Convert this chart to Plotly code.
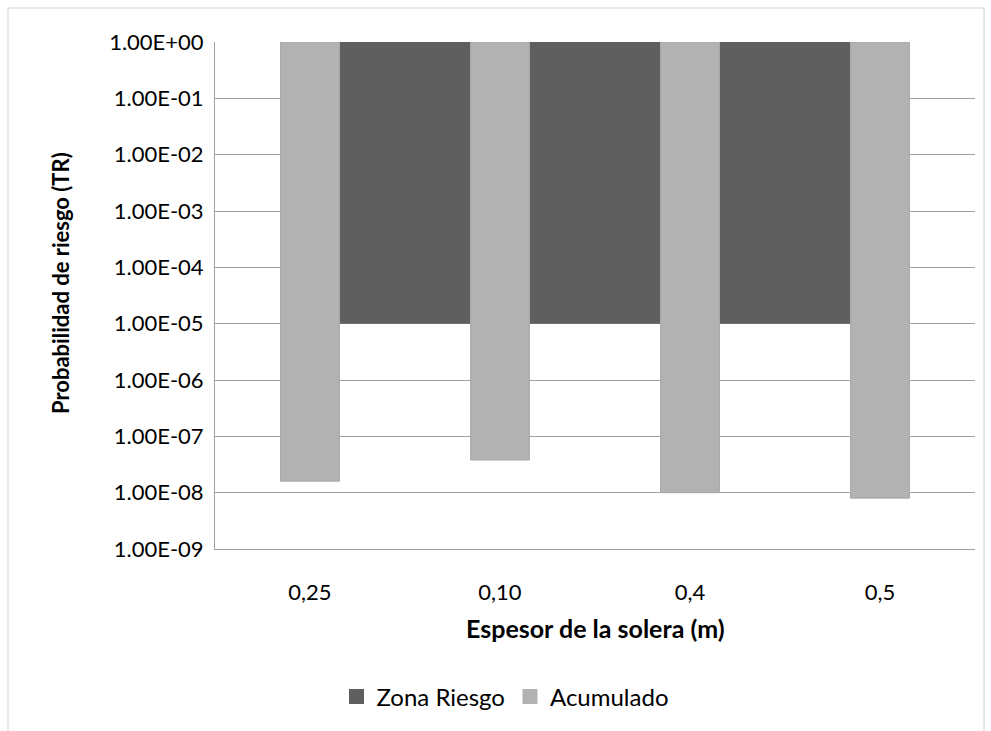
import plotly.graph_objects as go

# Categories (thickness of the base slab, m) and series values
categories = ["0,25", "0,10", "0,4", "0,5"]
acumulado = [1.6e-8, 3.8e-8, 1.0e-8, 8.0e-9]
zona_riesgo = [1e-5, 1e-5, 1e-5, 1e-5]
axis_cross = 1.0  # horizontal axis crosses the log axis at 1

y_ticks = [10.0 ** e for e in range(-9, 1)]
y_ticktext = [f"{v:.2E}" for v in y_ticks]

DARK = "#5f5f5f"
LIGHT = "#b2b2b2"
GRID = "#a0a0a0"
FONT = "Lato"

fig = go.Figure()

# Risk zone: filled band between the zone limit and the axis crossing
fig.add_trace(go.Scatter(
    x=categories + categories[::-1],
    y=zona_riesgo + [axis_cross] * len(categories),
    fill="toself",
    fillcolor=DARK,
    line=dict(width=0, color=DARK),
    mode="lines",
    showlegend=False,
    hoverinfo="skip",
    xaxis="x", yaxis="y",
))

# Accumulated probability: bars hang from the axis crossing down to the value
# (drawn on an overlaid subplot so they sit above the risk band)
fig.add_trace(go.Bar(
    x=categories,
    y=[axis_cross - v for v in acumulado],
    base=acumulado,
    width=0.31,
    marker=dict(color=LIGHT, line=dict(color="#a8a8a8", width=1)),
    name="Acumulado",
    showlegend=False,
    xaxis="x2", yaxis="y2",
))

# Square legend keys
for name, color in [("Zona Riesgo", DARK), ("Acumulado", LIGHT)]:
    fig.add_trace(go.Scatter(
        x=[None], y=[None], mode="markers",
        marker=dict(symbol="square", size=15, color=color),
        name=name, xaxis="x", yaxis="y",
    ))

W, H = 991, 731
L, R, T, B = 215, 16, 42, 182
pw, ph = W - L - R, H - T - B


def px_x(px):
    return (px - L) / pw


def px_y(py):
    return (H - B - py) / ph


fig.update_layout(
    width=W, height=H,
    margin=dict(l=L, r=R, t=T, b=B),
    paper_bgcolor="white",
    plot_bgcolor="white",
    font=dict(family=FONT, size=16, color="#000000"),
    showlegend=True,
    barmode="overlay",
    legend=dict(
        orientation="h",
        x=px_x(505), xanchor="center",
        y=px_y(697), yanchor="middle",
        font=dict(family=FONT, size=24),
        traceorder="normal",
        itemsizing="trace",
        itemwidth=30,
    ),
    xaxis=dict(
        type="category",
        categoryorder="array", categoryarray=categories,
        range=[-0.5, 3.5],
        showgrid=False,
        showline=True, linecolor=GRID, linewidth=1,
        ticks="outside", ticklen=24, tickcolor="rgba(0,0,0,0)",
        tickfont=dict(family=FONT, size=22),
        zeroline=False,
    ),
    yaxis=dict(
        type="log",
        range=[-9, 0],
        tickvals=y_ticks,
        ticktext=y_ticktext,
        showgrid=True, gridcolor=GRID, gridwidth=1,
        showline=True, linecolor=GRID, linewidth=1,
        ticks="outside", ticklen=6, tickcolor="rgba(0,0,0,0)",
        tickfont=dict(family=FONT, size=22),
        zeroline=False,
    ),
    xaxis2=dict(
        type="category",
        categoryorder="array", categoryarray=categories,
        range=[-0.5, 3.5],
        overlaying="x", visible=False,
    ),
    yaxis2=dict(
        type="log",
        range=[-9, 0],
        overlaying="y", visible=False,
    ),
)

# Axis titles
fig.add_annotation(
    text="<b>Probabilidad de riesgo (TR)</b>",
    xref="paper", yref="paper",
    x=px_x(60), y=px_y(283),
    xanchor="center", yanchor="middle",
    textangle=-90, showarrow=False,
    font=dict(family=FONT, size=22),
)
fig.add_annotation(
    text="<b>Espesor de la solera (m)</b>",
    xref="paper", yref="paper",
    x=px_x(595), y=px_y(628),
    xanchor="center", yanchor="middle",
    showarrow=False,
    font=dict(family=FONT, size=25),
)

# Chart frame
fig.add_shape(
    type="rect", xref="paper", yref="paper",
    x0=px_x(8), x1=px_x(984), y0=px_y(745), y1=px_y(8),
    line=dict(color="#d0d0d0", width=1),
    fillcolor="rgba(0,0,0,0)", layer="below",
)

fig.write_html("out.html")
